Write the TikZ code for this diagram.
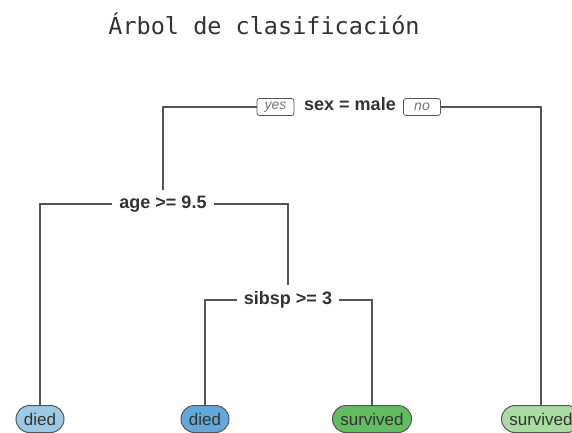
\documentclass[tikz,border=0pt]{standalone}
\usepackage{fontspec}
\setmainfont{Liberation Sans}
\newfontfamily\titlefont{DejaVu Sans Mono}
\usetikzlibrary{shapes.misc}
\definecolor{diedA}{HTML}{9CCAE6}
\definecolor{diedB}{HTML}{62A8DA}
\definecolor{survA}{HTML}{62BC62}
\definecolor{survB}{HTML}{A9DCA0}
\definecolor{linec}{HTML}{555555}
\definecolor{txt}{HTML}{333333}
\definecolor{ync}{HTML}{777777}
\begin{document}
\begin{tikzpicture}[x=1pt,y=-1pt,
  titlestyle/.style={font=\titlefont\fontsize{23.5}{27}\selectfont, text=txt, inner sep=0pt},
  splitnode/.style={font=\fontsize{18}{21}\selectfont\bfseries, text=txt, inner xsep=7pt, inner ysep=6pt},
  yesno/.style={draw=linec, rounded corners=2.5pt, line width=0.8pt, font=\fontsize{14}{16}\selectfont\itshape, text=ync, minimum width=37pt, minimum height=17pt, inner sep=1pt},
  leafnode/.style={rounded rectangle, draw=linec, line width=1pt, minimum height=27pt, font=\fontsize{17}{19}\selectfont, text=txt, inner xsep=3pt, inner ysep=1pt},
  edge/.style={draw=linec, line width=1.1pt}]
\useasboundingbox (0,0) rectangle (572,432);
\node[titlestyle] (t) at (264,24) {Árbol de clasificación};
\node[splitnode] (sex) at (350,104) {sex = male};
\node[yesno] (yes) at (275.5,107) {yes};
\node[yesno] (no) at (422,107) {no};
\node[splitnode] (age) at (163,204) {age >= 9.5};
\node[splitnode] (sib) at (288,300) {sibsp >= 3};
\node[leafnode, fill=diedA, minimum width=54pt] (l1) at (40,419) {died};
\node[leafnode, fill=diedB, minimum width=54pt] (l2) at (205,419) {died};
\node[leafnode, fill=survA, minimum width=85pt] (l3) at (372,419) {survived};
\node[leafnode, fill=survB, minimum width=85pt] (l4) at (541,419) {survived};
\draw[edge] (yes.west) -| (age.north);
\draw[edge] (no.east) -| (l4.north);
\draw[edge] (age.west) -| (l1.north);
\draw[edge] (age.east) -| (sib.north);
\draw[edge] (sib.west) -| (l2.north);
\draw[edge] (sib.east) -| (l3.north);
\end{tikzpicture}
\end{document}
